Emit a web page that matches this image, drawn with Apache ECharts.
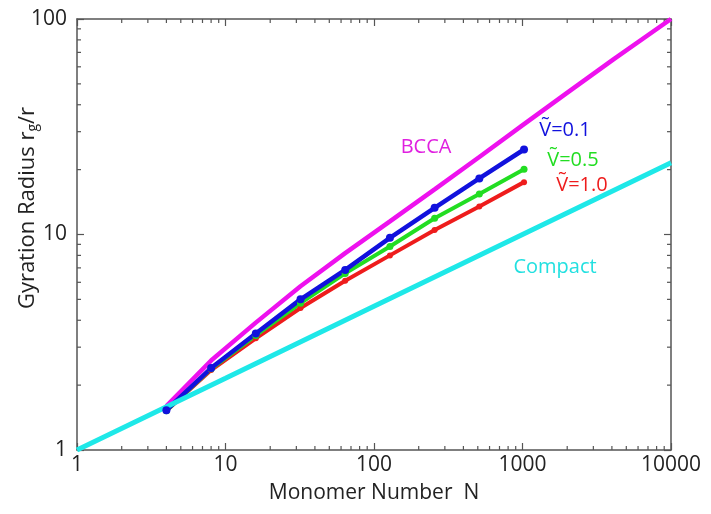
<!DOCTYPE html>
<html><head><meta charset="utf-8">
<script src="https://cdn.jsdelivr.net/npm/echarts@6/dist/echarts.min.js"></script>
<style>html,body{margin:0;padding:0;background:#fff}#c{width:711px;height:514px}</style>
</head><body><div id="c"></div>
<script>
// ---- data ----
const xTickLabels = ['1', '10', '100', '1000', '10000'];
const yTickLabels = ['1', '10', '100'];
const monomerN = [4, 8, 16, 32, 64, 128, 256, 512, 1024];
const rgV01 = [1.53, 2.4, 3.47, 5.0, 6.85, 9.65, 13.3, 18.2, 24.8];
const rgV05 = [1.52, 2.38, 3.4, 4.8, 6.6, 8.8, 11.9, 15.4, 20.1];
const rgV10 = [1.52, 2.35, 3.3, 4.56, 6.1, 8.0, 10.5, 13.5, 17.5];
const bccaN = [4, 8, 16, 32, 64, 128, 256, 512, 1024, 2048, 4096, 10000];
const bccaRg = [1.6, 2.6, 3.9, 5.75, 8.2, 11.5, 16.2, 22.9, 32.5, 46, 65, 100];
const compactN = [1, 10, 100, 1000, 10000];
const compactRg = [1, 2.15, 4.64, 10, 21.5];
const minorXTicks = [2,3,4,5,6,7,8,9,20,30,40,50,60,70,80,90,200,300,400,500,600,700,800,900,2000,3000,4000,5000,6000,7000,8000,9000];
const minorYTicks = [2,3,4,5,6,7,8,9,20,30,40,50,60,70,80,90];

(function () {
  const FONT = "'Open Sans', 'Liberation Sans', sans-serif";
  const AX = '#555';
  function zip(xs, ys) { return xs.map((x, i) => [x, ys[i]]); }
  function mp(text, coord, color) {
    return {
      symbol: 'circle', symbolSize: 1, silent: true,
      itemStyle: { color: 'rgba(0,0,0,0)' },
      label: { show: true, position: 'inside', formatter: text, color: color, fontSize: 20, fontFamily: FONT },
      data: [{ coord: coord }]
    };
  }

  const chart = echarts.init(document.getElementById('c'), null, { renderer: 'canvas' });
  const axisCommon = {
    type: 'log', logBase: 10,
    axisLine: { show: true, lineStyle: { color: AX, width: 1.5 } },
    axisTick: { show: true, inside: true, length: 7, lineStyle: { color: AX, width: 1.2 } },
    splitLine: { show: false }, minorTick: { show: false }
  };
  const option = {
    animation: false,
    backgroundColor: '#fff',
    grid: { left: 77, right: 40, top: 19, bottom: 64 },
    xAxis: [
      Object.assign({}, axisCommon, {
        min: 1, max: 10000, position: 'bottom',
        name: 'Monomer Number  N', nameLocation: 'middle', nameGap: 33,
        nameTextStyle: { fontSize: 21, color: '#222', fontFamily: FONT },
        axisLabel: { margin: 5, fontSize: 21, color: '#222', fontFamily: FONT,
          formatter: v => xTickLabels[Math.round(Math.log10(v))] }
      }),
      Object.assign({}, axisCommon, { min: 1, max: 10000, position: 'top', axisLabel: { show: false } })
    ],
    yAxis: [
      Object.assign({}, axisCommon, {
        min: 1, max: 100, position: 'left',
        axisLabel: { margin: 10, fontSize: 21, color: '#222', fontFamily: FONT,
          formatter: v => yTickLabels[Math.round(Math.log10(v))] }
      }),
      Object.assign({}, axisCommon, { min: 1, max: 100, position: 'right', axisLabel: { show: false } })
    ],
    series: [
      { name: 'BCCA', type: 'line', data: zip(bccaN, bccaRg), showSymbol: false,
        lineStyle: { color: '#ee11ee', width: 4.5 }, itemStyle: { color: '#ee11ee' },
        markPoint: mp('BCCA', [224, 25.5], '#e020e0') },
      { name: 'V1.0', type: 'line', data: zip(monomerN, rgV10), symbol: 'circle', symbolSize: 6,
        lineStyle: { color: '#ee1c1c', width: 4 }, itemStyle: { color: '#ee1c1c' },
        markPoint: mp('Ṽ=1.0', [2515, 17.0], '#ee1c1c') },
      { name: 'V0.5', type: 'line', data: zip(monomerN, rgV05), symbol: 'circle', symbolSize: 7,
        lineStyle: { color: '#22dd22', width: 4 }, itemStyle: { color: '#22dd22' },
        markPoint: mp('Ṽ=0.5', [2188, 22.2], '#22dd22') },
      { name: 'V0.1', type: 'line', data: zip(monomerN, rgV01), symbol: 'circle', symbolSize: 8,
        lineStyle: { color: '#1111dd', width: 4.5 }, itemStyle: { color: '#1111dd' },
        markPoint: mp('Ṽ=0.1', [1933, 30.5], '#1111dd') },
      { name: 'Compact', type: 'line', data: zip(compactN, compactRg), showSymbol: false,
        lineStyle: { color: '#1ee8e8', width: 5 }, itemStyle: { color: '#1ee8e8' },
        markPoint: mp('Compact', [1656, 7.03], '#22e0e0') }
    ]
  };
  chart.setOption(option);

  // minor (log) ticks on all four sides, positioned through the chart's own axes
  const p0 = chart.convertToPixel({ gridIndex: 0 }, [1, 1]);
  const p1 = chart.convertToPixel({ gridIndex: 0 }, [10000, 100]);
  const gl = p0[0], gb = p0[1], gr = p1[0], gt = p1[1];
  const len = 4;
  const tickStyle = { stroke: AX, lineWidth: 1.2 };
  const gfx = [];
  minorXTicks.forEach(v => {
    const x = chart.convertToPixel({ xAxisIndex: 0 }, v);
    gfx.push({ type: 'line', shape: { x1: x, y1: gb, x2: x, y2: gb - len }, style: tickStyle, silent: true });
    gfx.push({ type: 'line', shape: { x1: x, y1: gt, x2: x, y2: gt + len }, style: tickStyle, silent: true });
  });
  minorYTicks.forEach(v => {
    const y = chart.convertToPixel({ yAxisIndex: 0 }, v);
    gfx.push({ type: 'line', shape: { x1: gl, y1: y, x2: gl + len, y2: y }, style: tickStyle, silent: true });
    gfx.push({ type: 'line', shape: { x1: gr, y1: y, x2: gr - len, y2: y }, style: tickStyle, silent: true });
  });
  gfx.push({
    type: 'text', x: 28, y: 208, rotation: Math.PI / 2,
    style: {
      text: 'Gyration Radius r{sub|g}/r', fill: '#222', fontSize: 22, fontFamily: FONT,
      align: 'center', verticalAlign: 'middle',
      rich: { sub: { fontSize: 14, fill: '#222', fontFamily: FONT, padding: [10, 0, 0, 0] } }
    }
  });
  chart.setOption({ graphic: gfx });
})();
</script></body></html>
